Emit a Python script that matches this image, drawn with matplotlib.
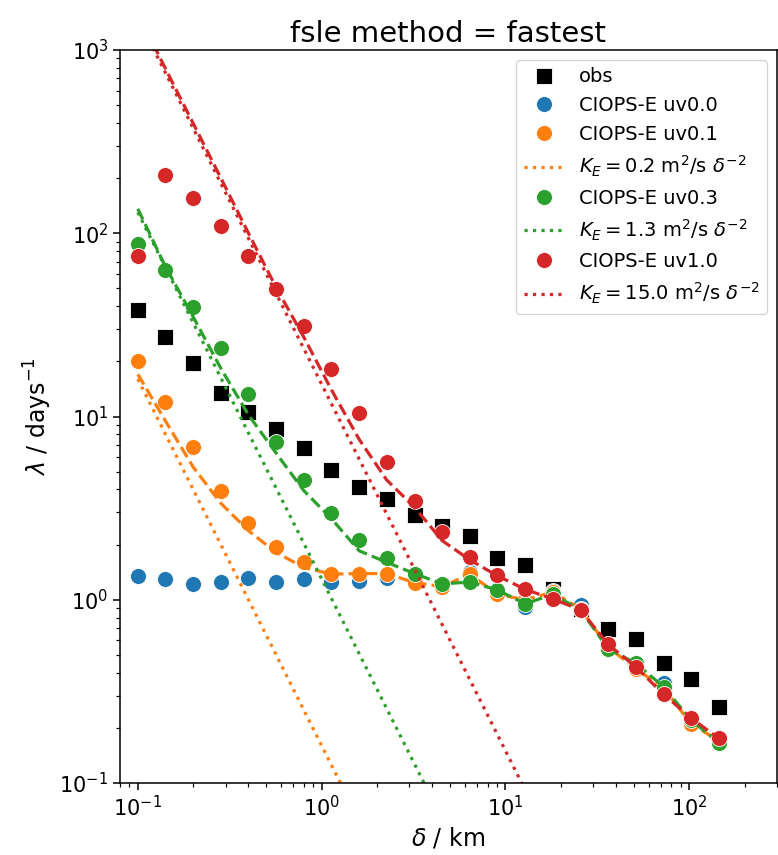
import matplotlib
matplotlib.use("Agg")
import matplotlib.pyplot as plt
import numpy as np

# separation scales (km)
delta = [0.1, 0.141, 0.2, 0.283, 0.4, 0.566, 0.8, 1.13, 1.6, 2.26, 3.2, 4.53,
         6.4, 9.05, 12.8, 18.1, 25.6, 36.2, 51.2, 72.4, 102.4, 144.8]

# FSLE (days^-1)
obs = [37.9, 27.3, 19.5, 13.5, 10.6, 8.5, 6.7, 5.1, 4.1, 3.56, 2.9, 2.52,
       2.24, 1.70, 1.55, 1.15, 0.89, 0.69, 0.61, 0.45, 0.37, 0.26]
uv00 = [1.34, 1.30, 1.22, 1.25, 1.31, 1.25, 1.29, 1.25, 1.27, 1.32, 1.30, 1.20,
        1.42, 1.10, 0.91, 1.12, 0.94, 0.57, 0.44, 0.35, 0.22, 0.17]
uv01 = [20.0, 12.0, 6.8, 3.9, 2.61, 1.93, 1.61, 1.39, 1.39, 1.39, 1.24, 1.18,
        1.38, 1.07, 1.00, 1.10, 0.89, 0.55, 0.42, 0.33, 0.21, 0.17]
uv03 = [87.9, 62.8, 39.5, 23.6, 13.3, 7.3, 4.51, 2.96, 2.12, 1.68, 1.39, 1.22,
        1.25, 1.13, 0.95, 1.07, 0.88, 0.54, 0.45, 0.335, 0.22, 0.166]
uv10 = [75.2, 209, 155, 110, 75.2, 49.4, 31.1, 18.2, 10.4, 5.68, 3.44, 2.33,
        1.72, 1.37, 1.14, 1.01, 0.88, 0.57, 0.43, 0.305, 0.226, 0.175]

# fitted curves (dashed)
fit01 = [17.0, 9.5, 5.3, 3.36, 2.38, 1.81, 1.50, 1.38, 1.39, 1.39, 1.24, 1.18,
         1.38, 1.07, 1.00, 1.10, 0.89, 0.55, 0.42, 0.33, 0.21, 0.17]
fit03 = [136, 66, 35, 18.3, 10.2, 6.3, 3.94, 2.77, 1.85, 1.60, 1.39, 1.22,
         1.25, 1.13, 0.95, 1.07, 0.88, 0.54, 0.45, 0.335, 0.22, 0.166]
fit10 = [1585, 795, 398, 200, 100, 50.5, 27.1, 14.0, 7.5, 4.5, 3.2, 2.1,
         1.65, 1.35, 1.14, 1.01, 0.88, 0.57, 0.43, 0.305, 0.226, 0.175]

# eddy diffusivities for the K_E delta^-2 lines
K_E = [0.16, 1.3, 15.0]

names = ["CIOPS-E uv0.1", "CIOPS-E uv0.3", "CIOPS-E uv1.0"]
runs = [uv01, uv03, uv10]
fits = [fit01, fit03, fit10]
colors = ["C1", "C2", "C3"]

d = np.array(delta)

fig = plt.figure(figsize=(7.78, 8.55), dpi=100)
ax = fig.add_axes([120 / 778, 72 / 855, 657 / 778, 733 / 855])

ms = 11.5
ax.plot(delta, obs, ls="none", marker="s", color="k", ms=ms, mec="w", mew=0.6, label="obs")
ax.plot(delta, uv00, ls="none", marker="o", color="C0", ms=ms, mec="w", mew=0.6,
        label="CIOPS-E uv0.0")
for name, run, fit, K, c in zip(names, runs, fits, K_E, colors):
    ax.plot(delta, run, ls="none", marker="o", color=c, ms=ms, mec="w", mew=0.6, label=name)
    lab = r"$K_E = %.1f$ m$^2$/s $\delta^{-2}$" % K
    ax.plot(d, K / d**2, ls=":", color=c, lw=2.3, label=lab)
    ax.plot(delta, fit, ls="--", color=c, lw=2.3, label="_nolegend_")

ax.set_xscale("log")
ax.set_yscale("log")
ax.set_xlim(0.08, 300)
ax.set_ylim(0.1, 1000)

ax.set_xlabel(r"$\delta$ / km", fontsize=17)
ax.set_ylabel(r"$\lambda$ / days$^{-1}$", fontsize=17)
ax.set_title("fsle method = fastest", fontsize=21)

ax.tick_params(which="major", labelsize=15, length=4.9, width=1.1)
ax.tick_params(which="minor", length=2.8, width=0.85)
for s in ax.spines.values():
    s.set_linewidth(1.1)

ax.legend(loc="upper right", fontsize=14)

fig.savefig("out.png", dpi=100)
